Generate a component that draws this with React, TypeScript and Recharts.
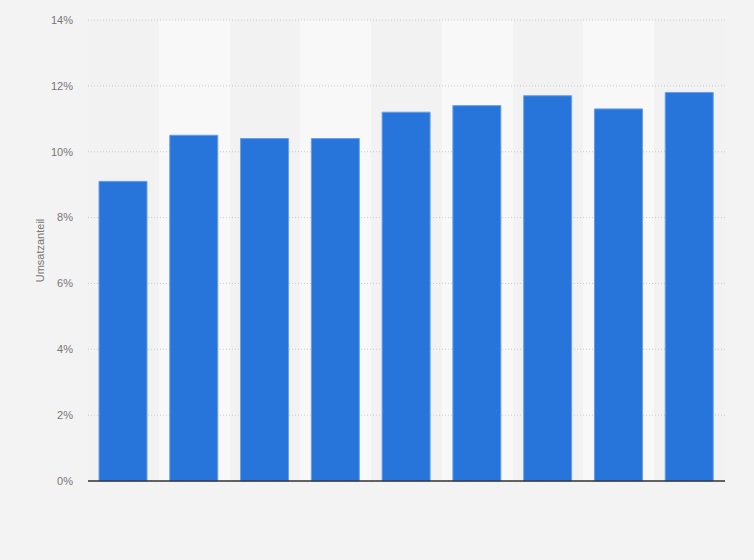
import { BarChart, Bar, XAxis, YAxis, CartesianGrid, ReferenceLine } from 'recharts';

const categories = ['1', '2', '3', '4', '5', '6', '7', '8', '9'];
const shares = [9.1, 10.5, 10.4, 10.4, 11.2, 11.4, 11.7, 11.3, 11.8];
const yTicks = [0, 2, 4, 6, 8, 10, 12, 14];

const data = categories.map((name, i) => ({ name, share: shares[i] }));

// band edges for the alternating column shading
const bandEdges = ({ offset }: any) =>
  categories.map((_, i) => offset.left + (i * offset.width) / categories.length);

const App = () => {
  return (
    <div style={{ position: 'absolute', left: 0, top: 0, width: 754, height: 560, background: '#f3f3f3' }}>
      <BarChart
        width={754}
        height={560}
        data={data}
        margin={{ top: 20, right: 29, bottom: 79, left: 30 }}
        style={{ fontFamily: 'Liberation Sans, Arial, sans-serif' }}
      >
        <CartesianGrid
          horizontal={false}
          vertical={() => <g />}
          verticalCoordinatesGenerator={bandEdges}
          verticalFill={['#f2f2f2', '#f8f8f8']}
          fillOpacity={1}
          stroke="none"
        />
        <CartesianGrid vertical={false} stroke="#cccccc" strokeDasharray="1 2" />
        <XAxis dataKey="name" hide />
        <YAxis
          width={58}
          domain={[0, 14]}
          ticks={yTicks}
          tickFormatter={(v) => `${v}%`}
          axisLine={false}
          tickLine={false}
          tickSize={0}
          tickMargin={15}
          tick={{ fill: '#777', fontSize: 11 }}
          label={{ value: 'Umsatzanteil', angle: -90, position: 'insideLeft', offset: 10, fill: '#777', fontSize: 11, style: { textAnchor: 'middle' } }}
        />
        <Bar
          dataKey="share"
          fill="#2775db"
          stroke="#6a9fe6"
          strokeWidth={1}
          barSize={48}
          isAnimationActive={false}
        />
        <ReferenceLine y={0} stroke="#333" strokeWidth={1.5} />
      </BarChart>
    </div>
  );
};

export default App;
